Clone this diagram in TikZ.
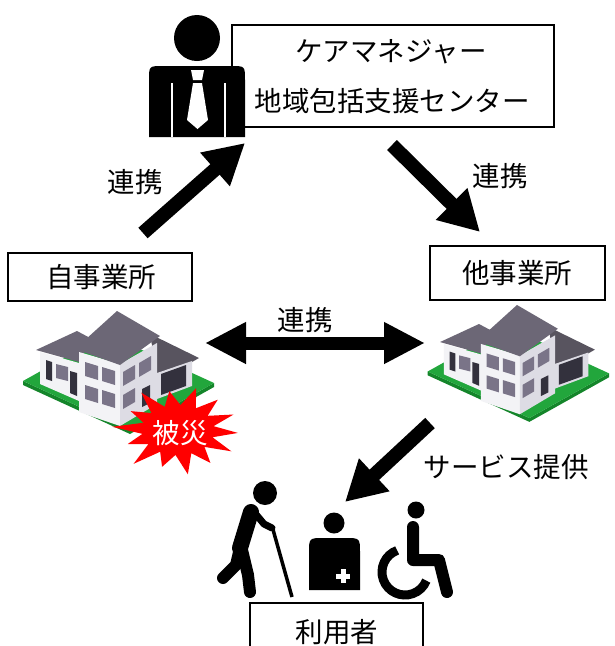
\documentclass[tikz,border=0pt]{standalone}
\usepackage{fontspec}
\newfontfamily\jpfont{Noto Sans CJK JP}
\usetikzlibrary{arrows.meta}

\definecolor{roofgray}{HTML}{6C6776}
\definecolor{roofdark}{HTML}{58545F}
\definecolor{wallfront}{HTML}{F3F3F6}
\definecolor{wallside}{HTML}{DDDCE4}
\definecolor{winpane}{HTML}{7A7488}
\definecolor{doordark}{HTML}{33313D}
\definecolor{lawn}{HTML}{22A63C}
\definecolor{lawnedge}{HTML}{14852A}
\definecolor{burst}{HTML}{FF0000}

% isometric house, drawn in its own pixel frame
\newcommand\isohouse{%
  % lawn
  \fill[lawnedge] (23,381) -- (130,430) -- (214,383) -- (214,387) -- (130,434) -- (23,385) -- cycle;
  \fill[lawn] (23,381) -- (107,334) -- (214,383) -- (130,430) -- cycle;
  % garage wing
  \fill[roofdark] (150,334) -- (199,358) -- (192,362) -- (157,374) -- cycle;
  \fill[wallside] (157,373) -- (192,361) -- (192,386) -- (157,399) -- cycle;
  \fill[doordark] (161,374) -- (186,365) -- (186,386) -- (161,395) -- cycle;
  % left wing
  \fill[roofgray] (36,350) -- (77,331) -- (92,339) -- (79,362) -- cycle;
  \fill[wallfront] (40,352) -- (79,363) -- (79,401) -- (40,384) -- cycle;
  \fill[doordark] (46,360) -- (52,362) -- (52,381) -- (46,379) -- cycle;
  \fill[winpane] (56,364) -- (68,367) -- (68,381) -- (56,378) -- cycle;
  \fill[doordark] (70,371) -- (77,373) -- (77,396) -- (70,393) -- cycle;
  % main block
  \fill[wallfront] (79,352) -- (120,364) -- (120,426) -- (79,412) -- cycle;
  \fill[wallside] (120,364) -- (157,343) -- (157,404) -- (120,426) -- cycle;
  \fill[roofgray] (75,349) -- (117,311) -- (160,336) -- (120,365) -- cycle;
  % windows, front face
  \fill[winpane] (85,362) -- (98,366) -- (98,380) -- (85,376) -- cycle;
  \fill[winpane] (102,367) -- (115,371) -- (115,385) -- (102,381) -- cycle;
  \fill[winpane] (85,385) -- (98,389) -- (98,403) -- (85,399) -- cycle;
  \fill[winpane] (102,390) -- (115,394) -- (115,408) -- (102,404) -- cycle;
  % windows, side face
  \fill[winpane] (123,372) -- (135,365) -- (135,379) -- (123,386) -- cycle;
  \fill[winpane] (139,363) -- (151,356) -- (151,370) -- (139,377) -- cycle;
  \fill[winpane] (123,395) -- (135,388) -- (135,402) -- (123,409) -- cycle;
  \fill[doordark] (142,389) -- (150,385) -- (150,403) -- (142,407) -- cycle;
}

\begin{document}
\begin{tikzpicture}[x=1pt,y=-1pt,
  txt/.style={font=\jpfont\fontsize{27.5}{32}\selectfont, inner sep=0pt},
  frame/.style={draw=black, line width=1.4pt, fill=white, inner sep=0pt},
  bigarrow/.style={line width=14pt, -{Triangle[length=40pt,width=42pt]}},
  twoway/.style={line width=13pt, {Triangle[length=41pt,width=39pt]}-{Triangle[length=41pt,width=39pt]}},
  limb/.style={line cap=round, line join=round}]
\clip (0,0) rectangle (614,646);
\fill[white] (0,0) rectangle (614,646);

% care manager box
\node[frame, minimum width=322pt, minimum height=102pt] (cmbox) at (393,76) {};
\node[txt] (cm1) at (391,52) {ケアマネジャー};
\node[txt] (cm2) at (392,101) {地域包括支援センター};

% businessman icon
\fill (149,137) -- (149,80) .. controls (149,66) .. (163,66) -- (231,66) .. controls (245,66) .. (245,80) -- (245,137) -- cycle;
\fill (197,38) circle (23);
\draw[white, line width=1.6pt] (172,83) -- (172,137) (225,83) -- (225,137);
\fill[white] (191,70) -- (204,70) -- (202,80) -- (193,80) -- cycle;
\fill[white] (193,83) -- (202,83) -- (208,120) -- (197.5,129) -- (187,120) -- cycle;

% coordinates for the connectors
\coordinate (upS) at (143,233);
\coordinate (upT) at (245,143);
\coordinate (dnS) at (392,145);
\coordinate (dnT) at (480,232);
\coordinate (hzL) at (205,343);
\coordinate (hzR) at (425,343);
\coordinate (svS) at (430,423);
\coordinate (svT) at (345,502);

\draw[bigarrow] (upS) -- (upT);
\draw[bigarrow] (dnS) -- (dnT);
\draw[twoway] (hzL) -- (hzR);
\draw[bigarrow] (svS) -- (svT);

\node[txt] (l1) at (135,182) {連携};
\node[txt] (l2) at (500,176) {連携};
\node[txt] (l3) at (305,320) {連携};
\node[txt] (l4) at (506,467) {サービス提供};

% houses
\begin{scope}
  \isohouse
\end{scope}
\begin{scope}[shift={(405.85,9.55)}, scale=0.95]
  \isohouse
\end{scope}

% damage burst
\fill[burst] plot[samples at={0,...,27}]
  ({178+(mod(\x,2)==0 ? 60*(1+0.1*sin(\x*83)) : 36)*cos(\x*360/28+4)},
   {430+(mod(\x,2)==0 ? 42*(1+0.1*sin(\x*83)) : 25)*sin(\x*360/28+4)}) -- cycle;
\node[txt, white] (hs) at (180,433) {被災};

% office boxes
\node[frame, minimum width=184pt, minimum height=48pt] (own) at (100,277) {};
\node[txt] (ownt) at (101,277) {自事業所};
\node[frame, minimum width=175pt, minimum height=54pt] (oth) at (517.5,273) {};
\node[txt] (otht) at (517,273) {他事業所};

% elderly person with cane
\fill (265,493) circle (12);
\draw[limb, line width=16pt] (251,512) -- (240,548);
\draw[limb, line width=12pt] (240,548) -- (236,565) -- (223,578);
\draw[limb, line width=12pt] (242,550) -- (248,575) -- (250,592);
\draw[limb, line width=7pt] (254,512) -- (264,524) -- (272,528);
\draw[line width=3.5pt] (272,526) -- (292,597);

% patient with cross
\fill (334,523) circle (10.5);
\fill (309,590) -- (309,553) .. controls (309,538) .. (324,538) -- (345,538) .. controls (360,538) .. (360,553) -- (360,590) -- cycle;
\fill[white] (340.5,569) rectangle (345.5,583);
\fill[white] (336,573.5) rectangle (350,578.5);

% wheelchair user
\fill (416,510) circle (8.5);
\draw[limb, line width=12pt] (413,527) -- (413,560) -- (439,560) -- (447,592);
\draw[line width=9pt] (405,572) ++(250:23) arc[start angle=250, end angle=22, radius=23];

% user box
\node[frame, minimum width=173pt, minimum height=70pt] (usr) at (336.5,638) {};
\node[txt] (usrt) at (337,632) {利用者};
\end{tikzpicture}
\end{document}
